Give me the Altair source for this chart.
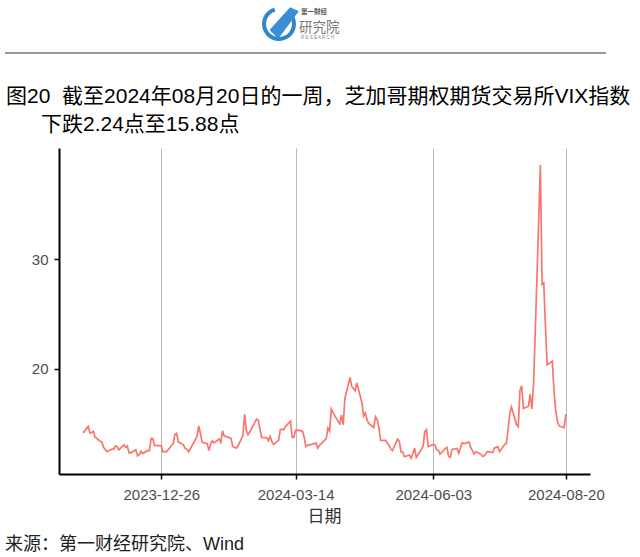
import altair as alt
import pandas as pd

# ---- data: CBOE VIX daily close ----
vix_2023_11 = [14.17, 14.76, 14.16, 14.18, 14.32, 13.80, 13.41, 13.35, 12.85, 12.46, 12.69, 12.69, 12.98, 12.92]
vix_2023_12 = [12.63, 13.08, 12.85, 12.97, 12.35, 12.35, 12.63, 12.07, 12.19, 12.48, 12.28, 12.56, 12.53, 13.67,
               13.65, 13.03, 12.99, 12.43, 12.47, 12.45]
vix_2024_01 = [13.20, 14.04, 14.13, 13.35, 13.08, 12.76, 12.69, 12.44, 12.70, 13.84, 14.79, 14.13, 13.30, 13.19,
               12.55, 13.14, 13.45, 13.26, 13.60, 13.31, 14.35]
vix_2024_02 = [13.88, 13.85, 13.67, 12.93, 12.83, 12.79, 12.93, 13.93, 15.85, 14.38, 14.01, 14.24, 15.42, 15.34,
               14.54, 13.75, 13.74, 13.43, 13.84, 13.40]
vix_2024_03 = [13.11, 13.49, 14.46, 14.50, 14.44, 14.74, 15.23, 13.75, 13.75, 14.40, 14.41, 14.33, 13.82, 12.92,
               13.06, 13.06, 13.19, 13.24, 12.78, 13.01]
vix_2024_04 = [13.65, 14.61, 14.33, 16.35, 16.03, 15.19, 14.98, 15.80, 14.91, 17.31, 19.23, 18.40, 18.21, 18.00,
               18.71, 16.94, 15.69, 15.97, 15.37, 15.03, 14.67, 15.65]
vix_2024_05 = [15.39, 14.68, 13.49, 13.49, 13.23, 13.00, 12.69, 12.55, 13.60, 13.42, 12.45, 12.42, 11.99, 12.15,
               11.86, 12.29, 12.77, 11.93, 12.92, 14.28, 14.47, 12.92]
vix_2024_06 = [13.11, 13.06, 12.63, 12.58, 12.22, 12.74, 12.85, 12.04, 11.94, 12.66, 12.75, 12.30, 13.28, 13.20,
               13.33, 12.84, 12.55, 12.24, 12.44]
vix_2024_07 = [12.22, 12.03, 12.09, 12.48, 12.37, 12.79, 12.85, 12.91, 12.46, 13.12, 13.19, 14.48, 15.93, 16.52,
               14.91, 14.72, 18.04, 18.46, 16.39, 16.60, 17.69, 16.36]
vix_2024_08 = [18.59, 23.39, 38.57, 27.71, 27.85, 23.79, 20.37, 20.71, 18.12, 16.19, 15.23, 14.80, 14.65, 15.88]

first_day = "2023-11-10"
last_day = "2024-08-20"
market_holidays = ["2023-11-23", "2023-12-25", "2024-01-01", "2024-01-15", "2024-02-19",
                   "2024-03-29", "2024-05-27", "2024-06-19", "2024-07-04"]

x_tick_dates = ["2023-12-26", "2024-03-14", "2024-06-03", "2024-08-20"]
y_tick_values = [20, 30]

title_line1 = "图20\u00a0\u00a0截至2024年08月20日的一周，芝加哥期权期货交易所VIX指数"
title_line2 = "下跌2.24点至15.88点"
x_title = "日期"
source_text = "来源：第一财经研究院、Wind"

# ---- build table ----
days = pd.bdate_range(first_day, last_day)
days = days[~days.isin(pd.to_datetime(market_holidays))]
vix = (vix_2023_11 + vix_2023_12 + vix_2024_01 + vix_2024_02 + vix_2024_03 + vix_2024_04
       + vix_2024_05 + vix_2024_06 + vix_2024_07 + vix_2024_08)
assert len(days) == len(vix), (len(days), len(vix))
df = pd.DataFrame({"date": days.strftime("%Y-%m-%d"), "vix": vix})


def ms(s):
    return int(pd.Timestamp(s).value // 10**6)


span = pd.Timestamp(last_day) - pd.Timestamp(first_day)
x_domain = [ms(pd.Timestamp(first_day) - span * 0.05), ms(pd.Timestamp(last_day) + span * 0.05)]
x_ticks = [ms(d) for d in x_tick_dates]

# ---- layout ----
PL, PT, W, H = 59, 148, 531, 326
LAT = "Liberation Sans, Noto Sans CJK SC"
CJK = "Noto Sans CJK SC, Liberation Sans"

line = alt.Chart(df).mark_line(color="#F8766D", strokeWidth=1.7).encode(
    x=alt.X("date:T",
            scale=alt.Scale(type="utc", domain=x_domain, nice=False),
            axis=alt.Axis(values=x_ticks, labelExpr="utcFormat(datum.value, '%Y-%m-%d')",
                          grid=True, gridColor="#b8b8b8", gridWidth=1,
                          domainColor="black", domainWidth=2, tickColor="black", tickWidth=1.5,
                          tickSize=5, labelFont="Liberation Sans", labelFontSize=15,
                          labelColor="#4d4d4d", labelPadding=8, labelFlush=False,
                          labelOverlap=False, title=None)),
    y=alt.Y("vix:Q",
            scale=alt.Scale(domain=[10.42, 40.13], nice=False, zero=False),
            axis=alt.Axis(values=y_tick_values, grid=False, domainColor="black", domainWidth=2,
                          tickColor="black", tickWidth=1.5, tickSize=5,
                          labelFont="Liberation Sans", labelFontSize=15, labelColor="#4d4d4d",
                          labelPadding=6, title=None)),
)


def text_layer(txt, x, y, size, color="black", font=CJK, align="left", weight="normal"):
    return alt.Chart(pd.DataFrame({"t": [txt]})).mark_text(
        align=align, baseline="middle", fontSize=size, font=font, color=color, fontWeight=weight
    ).encode(x=alt.value(x - PL), y=alt.value(y - PT), text="t:N")


title1 = text_layer(title_line1, 6, 97, 21, font=LAT)
title2 = text_layer(title_line2, 41, 125, 21, font=LAT)
xlab = text_layer(x_title, PL + W / 2, 517, 17, color="#333333", align="center")
source = text_layer(source_text, 5, 545, 18, color="#222222", font=LAT)

header_rule = alt.Chart(pd.DataFrame({"a": [0]})).mark_rule(color="#333333", strokeWidth=1.2).encode(
    x=alt.value(5 - PL), x2=alt.value(606 - PL), y=alt.value(53 - PT))

logo_ring = alt.Chart(pd.DataFrame({"a": [0]})).mark_arc(
    radius=17, radius2=13, theta=1.0, theta2=6.0, color="#2f86c8").encode(
    x=alt.value(279 - PL), y=alt.value(24 - PT))
logo_blade = alt.Chart(pd.DataFrame({"a": [0]})).mark_point(
    shape="M-0.85,0.45 L0.45,-1 L1,-0.75 L-0.3,1 Z", filled=True, size=1000, color="#3a8fd4",
    opacity=1).encode(x=alt.value(283 - PL), y=alt.value(23 - PT))
logo_t1 = text_layer("第一财经", 301, 12, 6.5, color="#555555", weight="bold")
logo_t2 = text_layer("研究院", 299, 28, 13.5, color="#7a7a7a")
logo_t3 = text_layer("R E S E A R C H", 301, 38, 4.5, color="#888888", font="Liberation Sans")

chart = alt.layer(
    line, header_rule, logo_ring, logo_blade, logo_t1, logo_t2, logo_t3,
    title1, title2, xlab, source
).properties(
    width=W, height=H,
    autosize=alt.AutoSizeParams(type="none"),
    padding={"left": PL, "top": PT, "right": 640 - PL - W, "bottom": 557 - PT - H},
    background="white",
).configure_view(stroke=None)

chart.save("out.html", embed_options={"renderer": "svg", "actions": False})
